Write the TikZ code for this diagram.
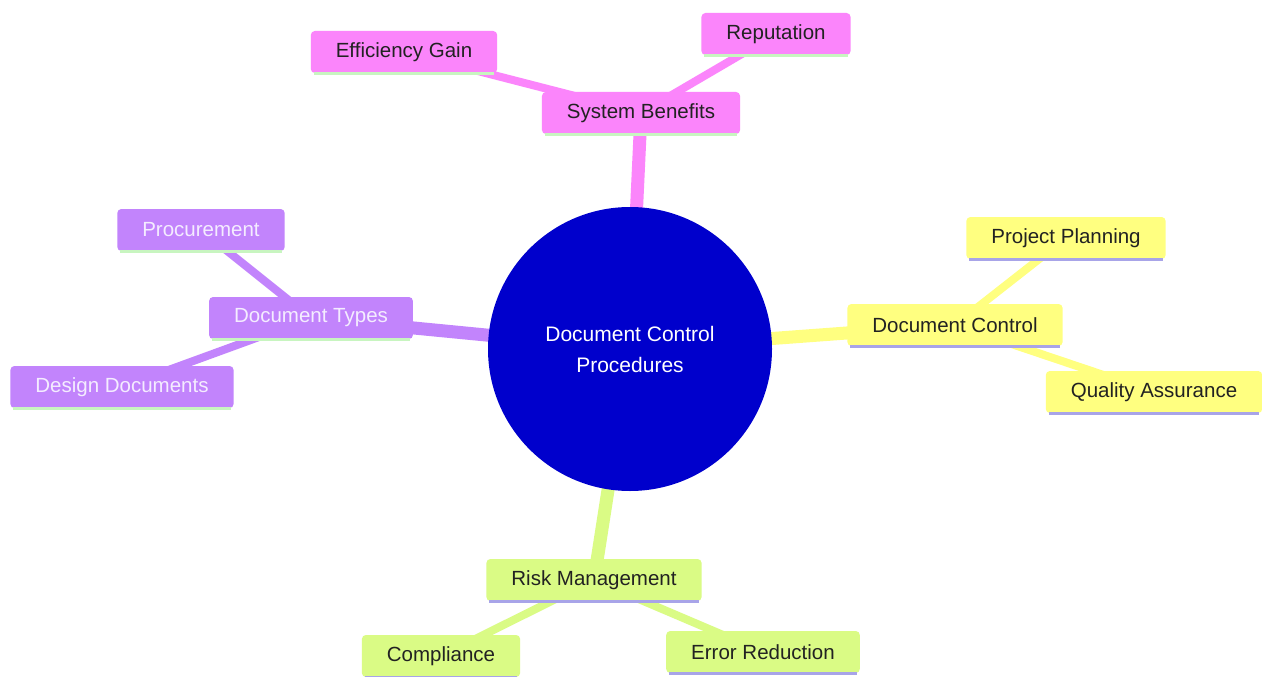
\documentclass[tikz,border=0pt]{standalone}
\usepackage{fontspec}
\setmainfont{Liberation Sans}
\pgfdeclarelayer{bg}
\pgfsetlayers{bg,main}
\definecolor{cpink}{HTML}{FB85FB}
\definecolor{cpurple}{HTML}{C284FC}
\definecolor{cyellow}{HTML}{FFFF80}
\definecolor{cgreen}{HTML}{DAFB85}
\definecolor{cblue}{HTML}{0000CC}
\definecolor{lgreen}{HTML}{C8F5C0}
\definecolor{lav}{HTML}{A8A4E8}
\definecolor{ptext}{HTML}{F4ECFF}
\definecolor{dtext}{HTML}{222222}
\tikzset{
  x=1pt, y=-1pt,
  mm/.style={rounded corners=4pt, minimum height=42pt, inner xsep=25pt, inner ysep=0pt,
    font=\fontsize{20.5}{24}\selectfont, text=dtext},
  pinkbox/.style={mm, fill=cpink},
  purplebox/.style={mm, fill=cpurple, text=ptext},
  yellowbox/.style={mm, fill=cyellow},
  greenbox/.style={mm, fill=cgreen},
  trunk/.style={line width=13pt},
  twig/.style={line width=8pt},
}
\newcommand{\uline}[2]{\draw[line width=3pt,#2] ([xshift=3pt]#1.south west) -- ([xshift=-3pt]#1.south east);}
\begin{document}
\begin{tikzpicture}
\useasboundingbox (0,0) rectangle (1262,677);
\node[circle, fill=cblue, minimum size=284pt, inner sep=0pt, text=white, align=center,
  font=\fontsize{21}{31}\selectfont] (root) at (630,349) {Document Control\\Procedures};

\node[pinkbox] (sb) at (641,113) {System Benefits};
\node[pinkbox] (eg) at (404,52) {Efficiency Gain};
\node[pinkbox] (rep) at (776,34) {Reputation};

\node[purplebox] (dt) at (311,318) {Document Types};
\node[purplebox] (proc) at (201,230) {Procurement};
\node[purplebox] (dd) at (122,387) {Design Documents};

\node[yellowbox] (dc) at (955,325) {Document Control};
\node[yellowbox] (pp) at (1066,238) {Project Planning};
\node[yellowbox] (qa) at (1154,392) {Quality Assurance};

\node[greenbox] (rm) at (594,580) {Risk Management};
\node[greenbox] (comp) at (441,656) {Compliance};
\node[greenbox] (er) at (763,652) {Error Reduction};

\uline{sb}{lgreen}\uline{eg}{lgreen}\uline{rep}{lgreen}
\uline{dt}{lgreen}\uline{proc}{lgreen}\uline{dd}{lgreen}
\uline{dc}{lav}\uline{pp}{lav}\uline{qa}{lav}
\uline{rm}{lav}\uline{comp}{lav}\uline{er}{lav}

\begin{pgfonlayer}{bg}
\fill[white] (0,0) rectangle (1262,677);
\draw[trunk, cpink] (root.center) -- (sb.center);
\draw[trunk, cpurple] (root.center) -- (dt.center);
\draw[trunk, cyellow] (root.center) -- (dc.center);
\draw[trunk, cgreen] (root.center) -- (rm.center);
\draw[twig, cpink] (sb.center) -- (eg.center);
\draw[twig, cpink] (sb.center) -- (rep.center);
\draw[twig, cpurple] (dt.center) -- (proc.center);
\draw[twig, cpurple] (dt.center) -- (dd.center);
\draw[twig, cyellow] (dc.center) -- (pp.center);
\draw[twig, cyellow] (dc.center) -- (qa.center);
\draw[twig, cgreen] (rm.center) -- (comp.center);
\draw[twig, cgreen] (rm.center) -- (er.center);
\end{pgfonlayer}
\end{tikzpicture}
\end{document}
